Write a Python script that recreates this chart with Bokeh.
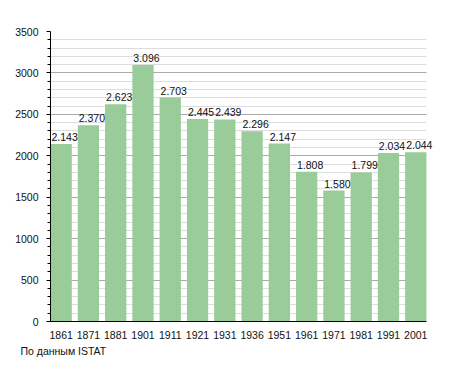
from bokeh.plotting import figure
from bokeh.models import ColumnDataSource, FixedTicker, LabelSet, Title
from bokeh.embed import file_html
from bokeh.resources import INLINE
from bokeh.core.properties import value
from bokeh.transform import dodge

years = ["1861", "1871", "1881", "1901", "1911", "1921", "1931",
         "1936", "1951", "1961", "1971", "1981", "1991", "2001"]
population = [2143, 2370, 2623, 3096, 2703, 2445, 2439,
              2296, 2147, 1808, 1580, 1799, 2034, 2044]
labels = ["2.143", "2.370", "2.623", "3.096", "2.703", "2.445", "2.439",
          "2.296", "2.147", "1.808", "1.580", "1.799", "2.034", "2.044"]
y_ticks = [0, 500, 1000, 1500, 2000, 2500, 3000, 3500]
source_note = "По данным  ISTAT"

FONT = "Liberation Sans"
BAR_W = 0.78
X0 = -BAR_W / 2
X1 = len(years) - 1 + BAR_W / 2
EXTRA = 0.26  # room on the right for the last value label

xs = list(range(len(years)))
src = ColumnDataSource(dict(x=xs, y=population, lab=labels))

p = figure(width=439, height=357, output_backend="svg", toolbar_location=None,
           x_range=(X0, X1 + EXTRA), y_range=(0, 3500),
           min_border_left=50, min_border_right=6, min_border_top=31, min_border_bottom=34)
p.outline_line_color = None
p.background_fill_color = "white"
p.border_fill_color = "white"

p.vbar(x="x", top="y", width=BAR_W, source=src, fill_color="#99CC99", line_color=None)

p.add_layout(LabelSet(x=dodge("x", -BAR_W / 2), y="y", text="lab", source=src,
                      text_align="left", x_offset=1,
                      text_baseline="bottom", y_offset=3, text_font=value(FONT),
                      text_font_size="10.5px", text_color="#111111"))

# axes
p.xaxis.ticker = FixedTicker(ticks=xs)
p.xaxis.major_label_overrides = {i: y for i, y in enumerate(years)}
p.xaxis.major_tick_line_color = None
p.xaxis.minor_tick_line_color = None
p.xaxis.axis_line_color = "black"
p.xaxis.bounds = (X0, X1)
p.xaxis.major_label_text_font = FONT
p.xaxis.major_label_text_font_size = "10.5px"
p.xaxis.major_label_text_color = "#111111"
p.xaxis.major_label_standoff = 3

minor = [v for v in range(0, 3501, 100) if v % 500 != 0]
p.yaxis.ticker = FixedTicker(ticks=y_ticks, minor_ticks=minor)
p.yaxis.axis_line_color = "black"
p.yaxis.major_tick_out = 4
p.yaxis.major_tick_in = 0
p.yaxis.minor_tick_out = 3
p.yaxis.minor_tick_in = 0
p.yaxis.major_tick_line_color = "black"
p.yaxis.minor_tick_line_color = "black"
p.yaxis.major_label_text_font = FONT
p.yaxis.major_label_text_font_size = "10.5px"
p.yaxis.major_label_text_color = "#111111"
p.yaxis.major_label_standoff = 8

p.xgrid.grid_line_color = None
p.ygrid.grid_line_color = "#aaaaaa"
p.ygrid.minor_grid_line_color = "#dddddd"
p.ygrid.cross_bounds = (X0, X1)
p.ygrid.level = "underlay"

p.add_layout(Title(text=source_note, align="left", offset=-30, standoff=2,
                   text_font=FONT, text_font_size="10.5px", text_font_style="normal",
                   text_color="#111111"), "below")

open("out.html", "w").write(file_html(p, INLINE))
